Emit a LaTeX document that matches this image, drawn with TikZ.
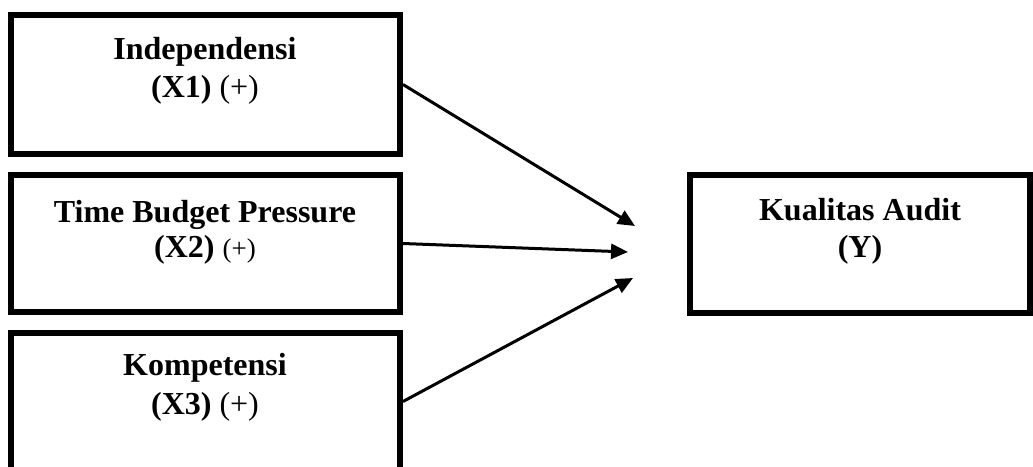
\documentclass[tikz,border=0pt]{standalone}
\usepackage{fontspec}
\setmainfont{Liberation Serif}
\usetikzlibrary{arrows.meta}
\begin{document}
\begin{tikzpicture}[x=1pt,y=-1pt,
  varbox/.style={draw=black,line width=6pt,fill=white,inner sep=0pt,minimum width=#1},
  varbox/.default=389pt,
  lbl/.style={anchor=base,font=\fontsize{32}{38}\selectfont\bfseries,align=center,inner sep=0pt},
  conn/.style={line width=3pt,-{Triangle[length=17pt,width=15pt]}}]
\useasboundingbox (0,0) rectangle (1033,466);
\node[varbox,minimum height=139pt] (x1) at (205.5,84.5) {};
\node[varbox,minimum height=137pt] (x2) at (205.5,243.5) {};
\node[varbox,minimum height=137pt] (x3) at (205.5,401.5) {};
\node[varbox=340pt,minimum height=138pt] (y) at (860,244) {};
\node[lbl] (t1a) at (205,59) {Independensi};
\node[lbl] (t1b) at (205,97) {(X1) {\mdseries(+)}};
\node[lbl] (t2a) at (205,222) {Time Budget Pressure};
\node[lbl] (t2b) at (205,257) {(X2) {\mdseries\fontsize{27}{32}\selectfont(+)}};
\node[lbl] (t3a) at (205,375) {Kompetensi};
\node[lbl] (t3b) at (205,414) {(X3) {\mdseries(+)}};
\node[lbl] (tya) at (860,220) {Kualitas Audit};
\node[lbl] (tyb) at (860,257) {(Y)};
\coordinate (e1) at (635,226);
\coordinate (e2) at (628,252);
\coordinate (e3) at (633,278);
\draw[conn] (x1.east) -- (e1);
\draw[conn] (x2.east) -- (e2);
\draw[conn] (x3.east) -- (e3);
\end{tikzpicture}
\end{document}
